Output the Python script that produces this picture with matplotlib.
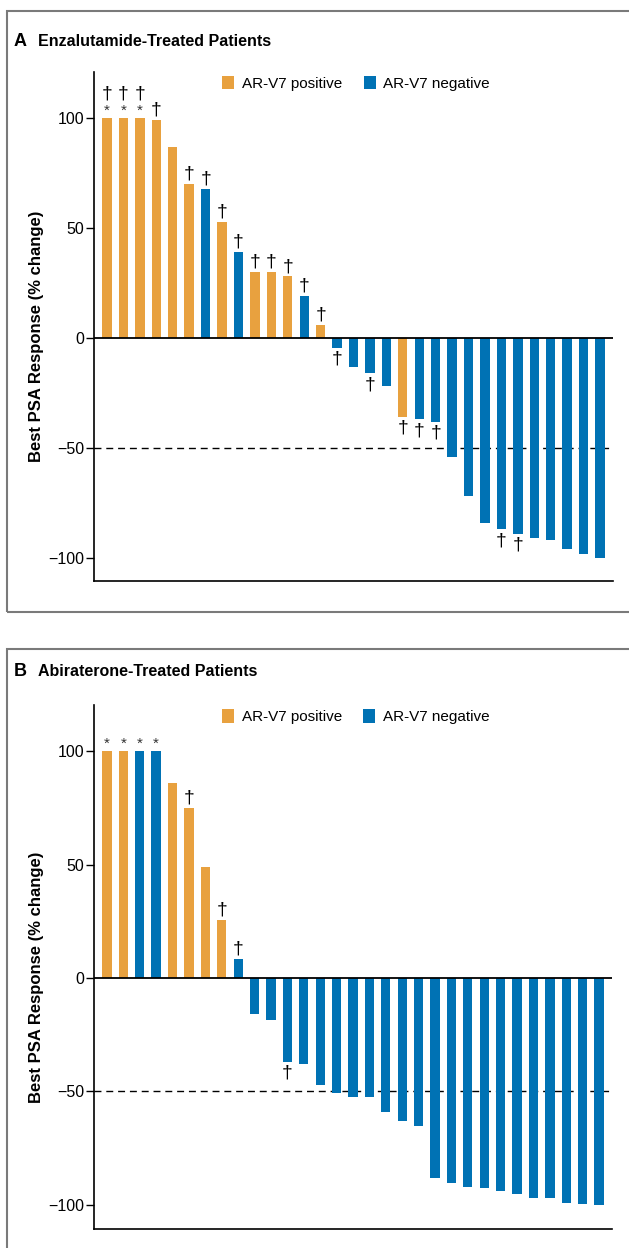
import matplotlib
matplotlib.use("Agg")
import matplotlib.pyplot as plt
from matplotlib.patches import Patch, Rectangle

# colours
ORANGE = "#E8A13F"
BLUE = "#0072B4"

# panel A: enzalutamide
enz_values = [100, 100, 100, 99, 87, 70, 68, 53, 39, 30, 30, 28, 19, 6,
              -4.5, -13, -16, -22, -36, -37, -38, -54, -72, -84, -87, -89,
              -91, -92, -96, -98, -100]
enz_positive = [1, 1, 1, 1, 1, 1, 0, 1, 0, 1, 1, 1, 0, 1,
                0, 0, 0, 0, 1, 0, 0, 0, 0, 0, 0, 0, 0, 0, 0, 0, 0]
enz_star = [0, 1, 2]
enz_dagger = [0, 1, 2, 3, 5, 6, 7, 8, 9, 10, 11, 12, 13, 14, 16, 18, 19, 20, 24, 25]

# panel B: abiraterone
abi_values = [100, 100, 100, 100, 86, 75, 49, 25.5, 8.5, -16, -18.5, -37, -38,
              -47, -50.5, -52.5, -52.5, -59, -63, -65, -88, -90.5, -92, -92.5,
              -94, -95, -97, -97, -99, -99.5, -100]
abi_positive = [1, 1, 0, 0, 1, 1, 1, 1, 0] + [0] * 22
abi_star = [0, 1, 2, 3]
abi_dagger = [5, 7, 8, 11]

yticks = [100, 50, 0, -50, -100]
ytick_labels = ["100", "50", "0", "\u221250", "\u2212100"]

TEXT_FONT = ["Liberation Sans", "DejaVu Sans"]
plt.rcParams["font.family"] = TEXT_FONT

W, H = 629, 1248
fig = plt.figure(figsize=(W / 100, H / 100), dpi=100)


def px_box(left, top, right, bottom):
    # pixel edges -> figure fraction [l, b, w, h]
    return [left / W, 1 - bottom / H, (right - left) / W, (bottom - top) / H]


def draw_panel(ax, values, positive, stars, daggers, ylim):
    x = list(range(len(values)))
    colors = [ORANGE if p else BLUE for p in positive]
    ax.axhline(-50, color="black", lw=1.0, ls=(0, (5, 3.5)), zorder=1)
    ax.bar(x, values, width=0.57, color=colors, zorder=2)
    ax.axhline(0, color="black", lw=1.3, zorder=3)
    ax.set_xlim(-0.79, len(values) - 0.21)
    ax.set_ylim(*ylim)
    ax.set_xticks([])
    ax.set_yticks(yticks)
    ax.set_yticklabels(ytick_labels, fontsize=11.5)
    ax.tick_params(axis="y", length=6, width=1.0, pad=1)
    for s in ["top", "right"]:
        ax.spines[s].set_visible(False)
    for s in ["left", "bottom"]:
        ax.spines[s].set_linewidth(1.2)
    ax.set_ylabel("Best PSA Response (% change)", fontsize=12, fontweight="bold")
    ax.yaxis.set_label_coords(-0.096, 0.48)

    for i, v in enumerate(values):
        off = 1
        if v >= 0:
            if i in stars:
                ax.annotate("*", (i, v), xytext=(0, 0), textcoords="offset points",
                            ha="center", va="bottom", fontsize=11, color="#333333")
                off = 11
            if i in daggers:
                ax.annotate("\u2020", (i, v), xytext=(0, off), textcoords="offset points",
                            ha="center", va="bottom", fontsize=14, color="black")
        else:
            if i in daggers:
                ax.annotate("\u2020", (i, v), xytext=(0, -2), textcoords="offset points",
                            ha="center", va="top", fontsize=14, color="black")

    handles = [Patch(facecolor=ORANGE, label="AR-V7 positive"),
               Patch(facecolor=BLUE, label="AR-V7 negative")]
    ax.legend(handles=handles, ncol=2, loc="center left",
              bbox_to_anchor=((222 - 94) / 519, 0.978), frameon=False,
              fontsize=11, handlelength=0.8, handleheight=1.0,
              handletextpad=0.5, columnspacing=1.4, borderpad=0, borderaxespad=0)


# panel A
axA = fig.add_axes(px_box(94, 72, 613, 581))
draw_panel(axA, enz_values, enz_positive, enz_star, enz_dagger, (-110.5, 121))
fig.text(14 / W, 1 - 42 / H, "A", fontsize=13, fontweight="bold", va="center")
fig.text(38 / W, 1 - 42 / H, "Enzalutamide-Treated Patients", fontsize=11.5,
         fontweight="bold", va="center")
fig.add_artist(Rectangle((7 / W, 1 - 612 / H), 1.0, (612 - 11) / H,
                         transform=fig.transFigure, fill=False,
                         edgecolor="#7a7a7a", lw=1.5, clip_on=False))

# panel B
axB = fig.add_axes(px_box(94, 705, 612, 1229))
draw_panel(axB, abi_values, abi_positive, abi_star, abi_dagger, (-110.6, 120.3))
fig.text(14 / W, 1 - 671 / H, "B", fontsize=13, fontweight="bold", va="center")
fig.text(38 / W, 1 - 671 / H, "Abiraterone-Treated Patients", fontsize=11.5,
         fontweight="bold", va="center")
fig.add_artist(Rectangle((7 / W, -0.05), 1.0, 1 - 649 / H + 0.05,
                         transform=fig.transFigure, fill=False,
                         edgecolor="#7a7a7a", lw=1.5, clip_on=False))

fig.savefig("out.png", dpi=100)
